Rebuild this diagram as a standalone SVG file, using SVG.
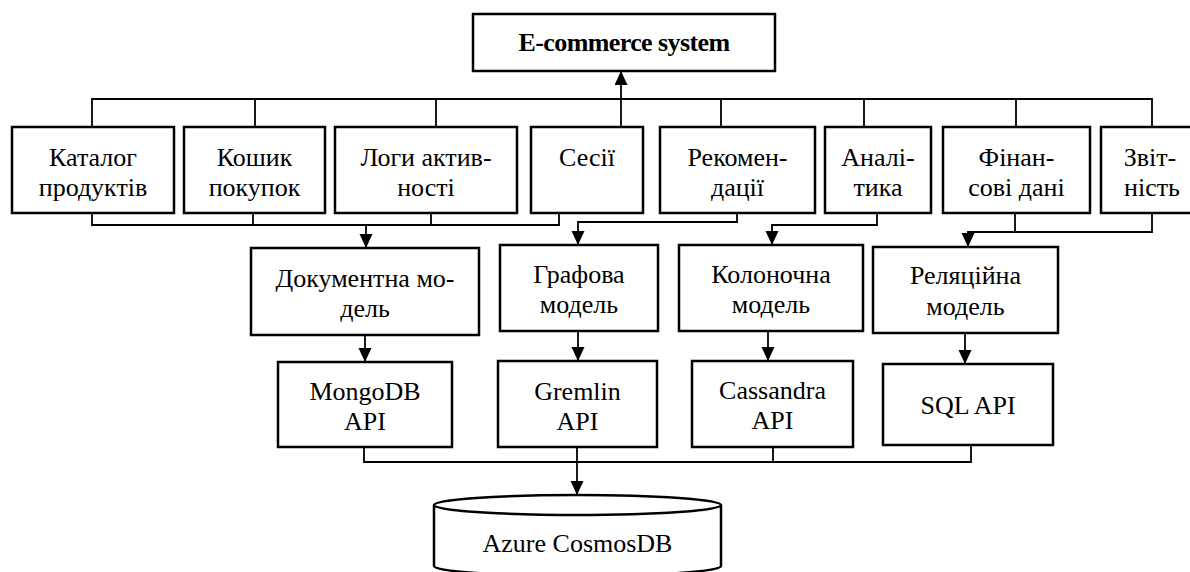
<svg xmlns="http://www.w3.org/2000/svg" width="1190" height="572" viewBox="0 0 1190 572">
<style>
.box{fill:#fff;stroke:#000;stroke-width:2.5}
.con{fill:none;stroke:#000;stroke-width:1.8}
.arr{fill:none;stroke:#000;stroke-width:1.8;marker-end:url(#ah)}
.b{font-weight:bold;letter-spacing:-0.6px}
</style>
<defs>
<marker id="ah" markerUnits="userSpaceOnUse" markerWidth="14" markerHeight="14" refX="14" refY="6.5" orient="auto">
<path d="M0,0 L14,6.5 L0,13 z" fill="#000"/>
</marker>
</defs>
<rect width="1190" height="572" fill="#fff"/>
<g id="connectors">
<path class="con" d="M92,127 V99 H1152 V127 M255,99 V127 M436,99 V127 M721,99 V127 M864,99 V127 M1016,99 V127"/>
<path class="arr" d="M621,127 V71"/>
<path class="con" d="M92,213 V225 H559 V213 M253,213 V225 M431,213 V225"/>
<path class="arr" d="M366,225 V248"/>
<path class="arr" d="M737,213 V222 H578 V245"/>
<path class="arr" d="M877,213 V225 H772 V245"/>
<path class="con" d="M1015,213 V232"/>
<path class="arr" d="M1152,213 V232 H968 V247"/>
<path class="arr" d="M365,335 V362"/>
<path class="arr" d="M578,331 V361"/>
<path class="arr" d="M768,331 V361"/>
<path class="arr" d="M965,333 V364"/>
<path class="con" d="M364,447 V462 H971 V446 M773,447 V462"/>
<path class="arr" d="M577,447 V495"/>
</g>
<g font-family="'Liberation Serif', 'DejaVu Serif', serif" font-size="26" text-anchor="middle" fill="#000">
<g id="ecommerce"><rect class="box" x="473" y="14" width="302" height="57"/><text class="b" x="624" y="51">E-commerce system</text></g>
<g id="catalog"><rect class="box" x="12" y="127" width="162" height="86"/><text x="93" y="166">Каталог</text><text x="93" y="196">продуктів</text></g>
<g id="cart"><rect class="box" x="184" y="127" width="141" height="86"/><text x="254.5" y="166">Кошик</text><text x="254.5" y="196">покупок</text></g>
<g id="logs"><rect class="box" x="335" y="127" width="182" height="86"/><text x="426" y="166">Логи актив-</text><text x="426" y="196">ності</text></g>
<g id="sessions"><rect class="box" x="531" y="127" width="112" height="86"/><text x="587" y="166">Сесії</text></g>
<g id="recommend"><rect class="box" x="660" y="127" width="155" height="86"/><text x="737.5" y="166">Рекомен-</text><text x="737.5" y="196">дації</text></g>
<g id="analytics"><rect class="box" x="825" y="127" width="106" height="86"/><text x="878" y="166">Аналі-</text><text x="878" y="196">тика</text></g>
<g id="finance"><rect class="box" x="943" y="127" width="147" height="86"/><text x="1016.5" y="166">Фінан-</text><text x="1016.5" y="196">сові дані</text></g>
<g id="reports"><rect class="box" x="1101" y="127" width="99" height="86"/><text x="1150" y="166">Звіт-</text><text x="1152" y="196">ність</text></g>
<g id="docmodel"><rect class="box" x="251" y="248" width="228" height="87"/><text x="365" y="287">Документна мо-</text><text x="365" y="317">дель</text></g>
<g id="graphmodel"><rect class="box" x="500" y="245" width="158" height="86"/><text x="579" y="283">Графова</text><text x="579" y="313">модель</text></g>
<g id="colmodel"><rect class="box" x="679" y="245" width="184" height="86"/><text x="771" y="283">Колоночна</text><text x="771" y="313">модель</text></g>
<g id="relmodel"><rect class="box" x="873" y="247" width="185" height="86"/><text x="965.5" y="284">Реляційна</text><text x="965.5" y="315">модель</text></g>
<g id="mongo"><rect class="box" x="278" y="362" width="174" height="85"/><text x="365" y="400">MongoDB</text><text x="365" y="430">API</text></g>
<g id="gremlin"><rect class="box" x="498" y="361" width="159" height="86"/><text x="577.5" y="400">Gremlin</text><text x="577.5" y="430">API</text></g>
<g id="cassandra"><rect class="box" x="692" y="361" width="161" height="86"/><text x="772.5" y="399">Cassandra</text><text x="772.5" y="429">API</text></g>
<g id="sql"><rect class="box" x="883" y="364" width="170" height="81"/><text x="968" y="414">SQL API</text></g>
<g id="cosmos">
<path class="box" d="M434,505 V566 A143.5,10 0 0 0 721,566 V505"/>
<ellipse class="box" cx="577.5" cy="505" rx="143.5" ry="10"/>
<text x="577.5" y="552">Azure CosmosDB</text>
</g>
</g>
</svg>
